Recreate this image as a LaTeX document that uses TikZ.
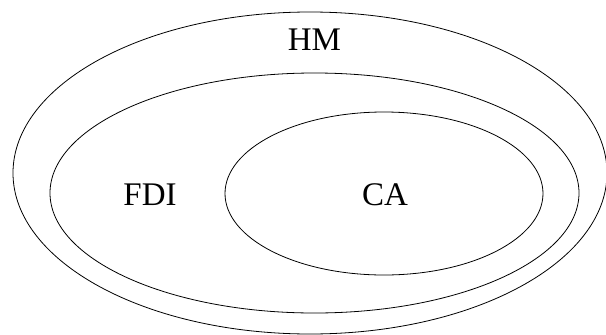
\documentclass[tikz,border=0pt]{standalone}
\usepackage{fontspec}
\setmainfont{Liberation Serif}
\usetikzlibrary{shapes.geometric}
\begin{document}
\begin{tikzpicture}[x=1pt,y=-1pt,
  setring/.style={ellipse, draw=black, line width=0.8pt, inner sep=0pt},
  setlabel/.style={inner sep=0pt, font=\fontsize{33}{36}\selectfont}]
  \useasboundingbox (0,0) rectangle (606,335);
  \clip (0,0) rectangle (606,335);
  % nested sets
  \node[setring, minimum width=594pt, minimum height=322pt] (hm) at (310,173) {};
  \node[setring, minimum width=529pt, minimum height=240pt] (fdi) at (314.5,193) {};
  \node[setring, minimum width=318pt, minimum height=163pt] (ca) at (384,193.5) {};
  % set names
  \node[setlabel] (hmlabel) at (314.5,39.5) {HM};
  \node[setlabel] (fdilabel) at (150,195) {FDI};
  \node[setlabel] (calabel) at (385,195) {CA};
\end{tikzpicture}
\end{document}
